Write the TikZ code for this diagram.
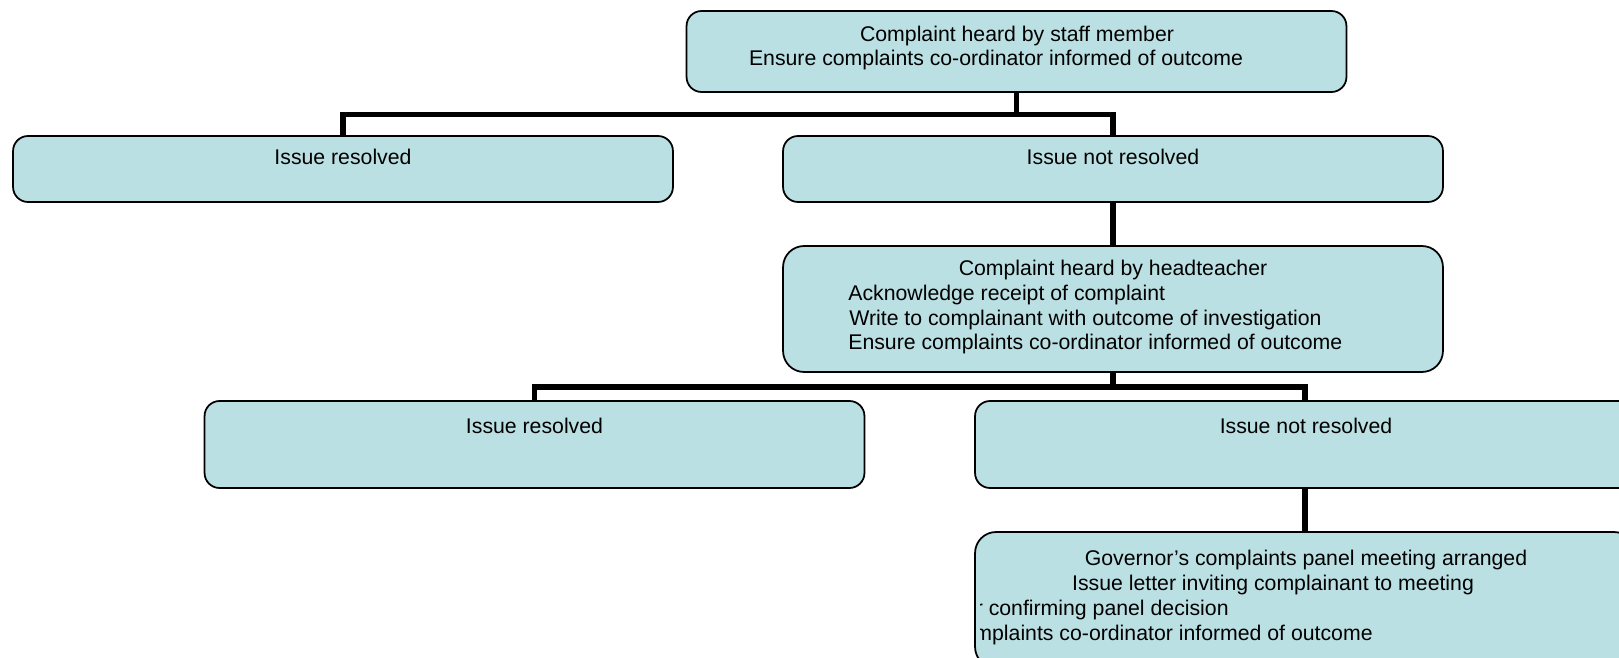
\documentclass[tikz,border=0pt]{standalone}
\usepackage{fontspec}
\setmainfont{Liberation Sans}
\usepackage{tikz}
\definecolor{boxfill}{RGB}{187,224,227}
\tikzset{
	stepbox/.style={draw=black, line width=1pt, fill=boxfill, rounded corners=0.3cm, minimum width=13.2cm, inner sep=0pt}, % the pale blue boxes
	bigbox/.style={stepbox, rounded corners=0.42cm}, % taller boxes, rounder corners
	txt/.style={inner sep=0pt, font=\fontsize{12.1}{14}\selectfont}, % one line of text
	link/.style={line width=3pt, draw=black}, % the thick connectors
}

\begin{document}
\begin{tikzpicture}[x=0.02cm, y=-0.02cm]
	\useasboundingbox (0,0) rectangle (1619,658);
	\clip (0,0) rectangle (1619,658);

	% Boxes
	\node[stepbox, minimum height=1.62cm] (staff) at (1016.5,51.5) {};
	\node[stepbox, minimum height=1.32cm] (resolvedA) at (343,169) {};
	\node[stepbox, minimum height=1.32cm] (openA) at (1113,169) {};
	\node[bigbox, minimum height=2.52cm] (head) at (1113,309) {};
	\node[stepbox, minimum height=1.74cm] (resolvedB) at (534.5,444.5) {};
	\node[stepbox, minimum height=1.74cm] (openB) at (1305,444.5) {};
	\node[bigbox, minimum height=2.72cm] (panel) at (1305,600) {};

	% Junctions
	\coordinate (j1) at (1016.5,114.5);
	\coordinate (j2) at (1113,387);

	% Connectors
	\draw[link] (staff.south) -- (j1);
	\draw[link] (resolvedA.north) |- (j1) -| (openA.north);
	\draw[link] (openA.south) -- (head.north);
	\draw[link] (head.south) -- (j2);
	\draw[link] (resolvedB.north) |- (j2) -| (openB.north);
	\draw[link] (openB.south) -- (panel.north);

	% Text
	\node[txt, anchor=base] (staffA) at (1017,42) {Complaint heard by staff member};
	\node[txt, anchor=base] (staffB) at (996,66) {Ensure complaints co-ordinator informed of outcome};

	\node[txt, anchor=base] (resolvedAt) at (343,165) {Issue resolved};
	\node[txt, anchor=base] (openAt) at (1113,165) {Issue not resolved};

	\node[txt, anchor=base] (headA) at (1113,276) {Complaint heard by headteacher};
	\node[txt, anchor=base west] (headB) at (848,301) {Acknowledge receipt of complaint};
	\node[txt, anchor=base west] (headC) at (849,326) {Write to complainant with outcome of investigation};
	\node[txt, anchor=base west] (headD) at (848,350) {Ensure complaints co-ordinator informed of outcome};

	\node[txt, anchor=base] (resolvedBt) at (534.5,433) {Issue resolved};
	\node[txt, anchor=base] (openBt) at (1306,433) {Issue not resolved};

	\node[txt, anchor=base] (panelA) at (1306,565) {Governor’s complaints panel meeting arranged};
	\node[txt, anchor=base] (panelB) at (1273,590) {Issue letter inviting complainant to meeting};
	\begin{scope}
		\clip (980.5,540) rectangle (1619,658);
		\node[txt, anchor=base east] (panelC) at (1229,615) {r confirming panel decision};
		\node[txt, anchor=base east] (panelD) at (1373,640) {mplaints co-ordinator informed of outcome};
	\end{scope}
\end{tikzpicture}
\end{document}
